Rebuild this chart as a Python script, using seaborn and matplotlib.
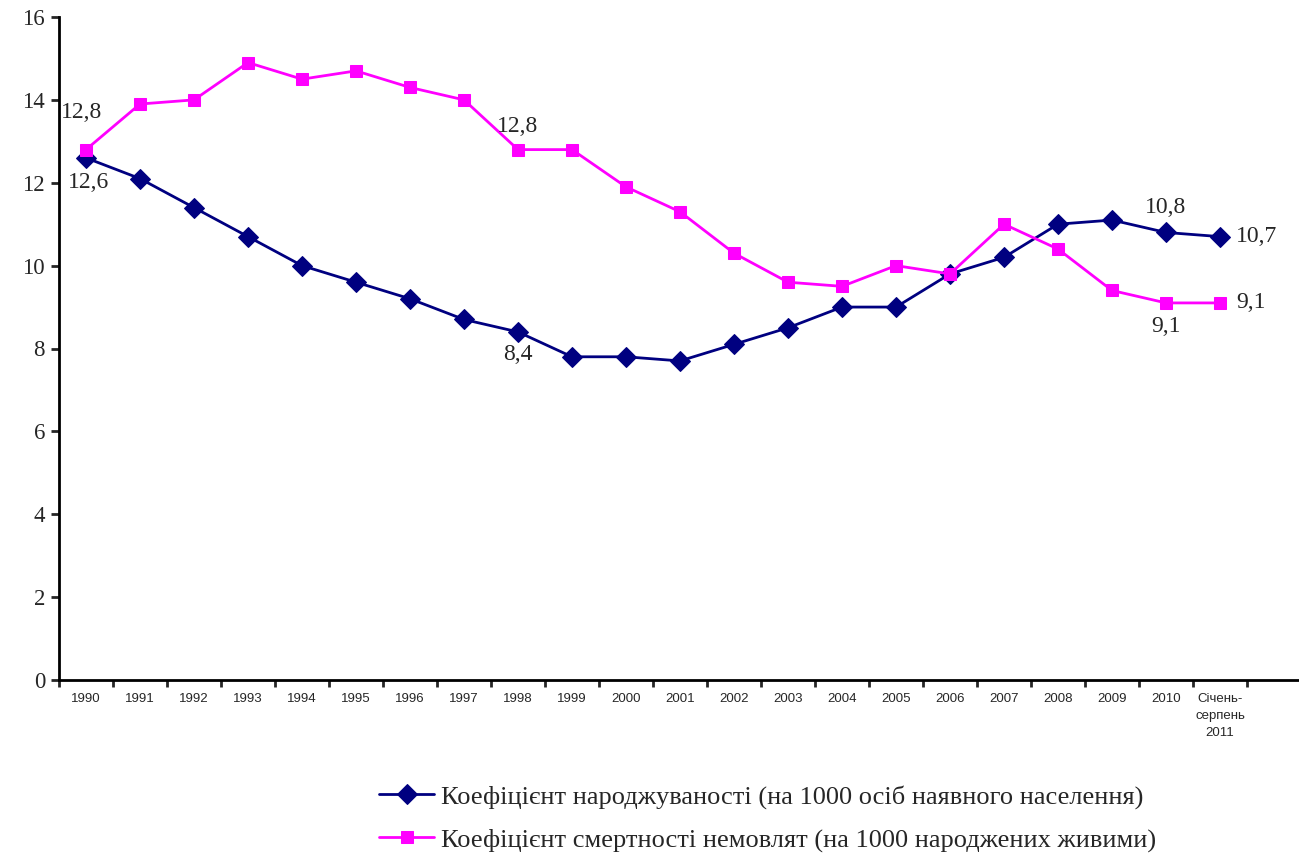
import pandas as pd
import numpy as np
import matplotlib.pyplot as plt
import seaborn as sns

years = ["1990", "1991", "1992", "1993", "1994", "1995", "1996", "1997", "1998", "1999",
         "2000", "2001", "2002", "2003", "2004", "2005", "2006", "2007", "2008", "2009",
         "2010", "Січень-\nсерпень\n2011"]
birth = [12.6, 12.1, 11.4, 10.7, 10.0, 9.6, 9.2, 8.7, 8.4, 7.8, 7.8, 7.7,
         8.1, 8.5, 9.0, 9.0, 9.8, 10.2, 11.0, 11.1, 10.8, 10.7]
infant = [12.8, 13.9, 14.0, 14.9, 14.5, 14.7, 14.3, 14.0, 12.8, 12.8, 11.9, 11.3,
          10.3, 9.6, 9.5, 10.0, 9.8, 11.0, 10.4, 9.4, 9.1, 9.1]

lbl_birth = "Коефіцієнт народжуваності (на 1000 осіб наявного населення)"
lbl_infant = "Коефіцієнт смертності немовлят (на 1000 народжених живими)"

df = pd.DataFrame({"x": np.arange(len(years)), "birth": birth, "infant": infant})

sns.set_style("white")
plt.rcParams['font.family'] = ['Liberation Serif', 'DejaVu Serif']

fig = plt.figure(figsize=(12.99, 8.56), dpi=100)
ax = fig.add_axes([59/1299, 176/856, 1242/1299, 663/856])

sns.lineplot(data=df, x="x", y="birth", ax=ax, color="#000080", marker="D",
             markersize=10, markeredgecolor="#000080", linewidth=2, label=lbl_birth)
sns.lineplot(data=df, x="x", y="infant", ax=ax, color="#ff00ff", marker="s",
             markersize=9, markeredgecolor="#ff00ff", linewidth=2, label=lbl_infant)

ax.set_xlim(-0.5, 22.5)
ax.set_ylim(0, 16)
ax.set_yticks(range(0, 17, 2))
ax.tick_params(axis="y", labelsize=16.5, length=6, width=2, direction="out", left=True, pad=4)
ax.set_xticks(np.arange(-0.5, 23, 1))
ax.set_xticklabels([])
ax.set_xticks(df["x"], minor=True)
ax.set_xticklabels(years, minor=True, family="Liberation Sans", fontsize=9.5, linespacing=1.6)
ax.tick_params(axis="x", which="major", length=5, width=2, direction="out", bottom=True)
ax.tick_params(axis="x", which="minor", length=0, pad=9)
ax.set_xlabel("")
ax.set_ylabel("")
for s in ["top", "right"]:
    ax.spines[s].set_visible(False)
for s in ["left", "bottom"]:
    ax.spines[s].set_color("black")
    ax.spines[s].set_linewidth(2)

# value labels
fs = 17
ax.text(-0.47, 13.7, "12,8", fontsize=fs, ha="left", va="center")
ax.text(0.05, 12.0, "12,6", fontsize=fs, ha="center", va="center")
ax.text(8, 13.35, "12,8", fontsize=fs, ha="center", va="center")
ax.text(8, 7.85, "8,4", fontsize=fs, ha="center", va="center")
ax.text(20, 11.4, "10,8", fontsize=fs, ha="center", va="center")
ax.text(21.3, 10.7, "10,7", fontsize=fs, ha="left", va="center")
ax.text(20, 8.52, "9,1", fontsize=fs, ha="center", va="center")
ax.text(21.3, 9.1, "9,1", fontsize=fs, ha="left", va="center")

ax.get_legend().remove()
h, l = ax.get_legend_handles_labels()
fig.legend(h, l, loc="upper left", bbox_to_anchor=(379/1299, 1 - 785/856), frameon=False,
           fontsize=19, handlelength=2.1, handletextpad=0.25, labelspacing=0.72,
           borderpad=0, borderaxespad=0)

fig.savefig("out.png", dpi=100)
